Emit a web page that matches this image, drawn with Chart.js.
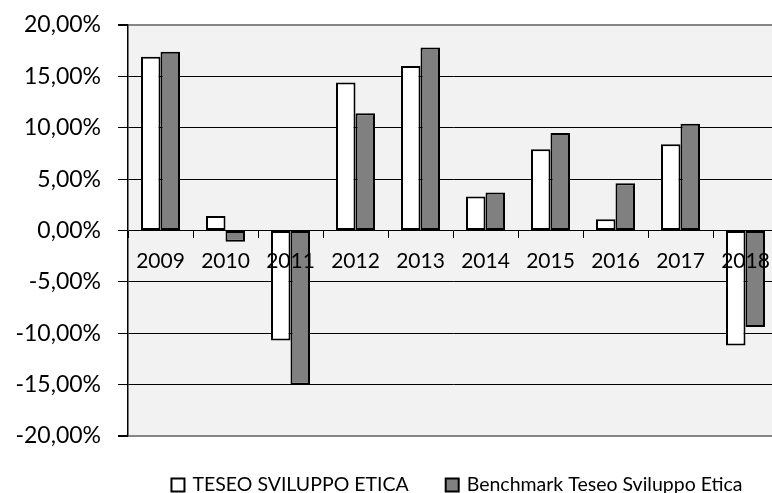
<!DOCTYPE html>
<html>
<head>
<meta charset="utf-8">
<script src="https://cdn.jsdelivr.net/npm/chart.js@4.4.1/dist/chart.umd.min.js"></script>
<style>
  html, body { margin: 0; padding: 0; background: #fff; overflow: hidden; width: 772px; height: 493px; }
  #wrap { width: 780px; height: 493px; position: relative; }
</style>
</head>
<body>
<div id="wrap"><canvas id="c"></canvas></div>
<script>
const categories = ['2009','2010','2011','2012','2013','2014','2015','2016','2017','2018'];
const fundLabel = 'TESEO SVILUPPO ETICA';
const benchLabel = 'Benchmark Teseo Sviluppo Etica';
const fundValues = [16.9, 1.4, -10.7, 14.4, 16.0, 3.3, 7.9, 1.1, 8.4, -11.2];
const benchValues = [17.4, -1.1, -15.0, 11.4, 17.8, 3.7, 9.5, 4.6, 10.4, -9.4];
const yMin = -20, yMax = 20, yStep = 5;

const FONT = 'Lato, "Open Sans", sans-serif';

const plotBg = {
  id: 'plotBg',
  beforeDraw(chart) {
    const {ctx, chartArea: a} = chart;
    ctx.save();
    ctx.fillStyle = '#f2f2f2';
    ctx.fillRect(a.left, a.top, a.right - a.left, a.bottom - a.top);
    ctx.restore();
  }
};

const excelLegend = {
  id: 'excelLegend',
  afterDraw(chart) {
    const ctx = chart.ctx;
    ctx.save();
    ctx.font = '19.5px ' + FONT;
    ctx.textBaseline = 'middle';
    ctx.textAlign = 'left';
    const box = 13, gap = 8, spacing = 37;
    const items = chart.data.datasets.map(ds => ({
      text: ds.label, fill: ds.backgroundColor, w: ctx.measureText(ds.label).width
    }));
    const total = items.reduce((s, it) => s + box + gap + it.w, 0) + spacing * (items.length - 1);
    let x = 457 - total / 2;
    const y = 485;
    items.forEach(it => {
      ctx.fillStyle = it.fill;
      ctx.fillRect(x, y - box / 2, box, box);
      ctx.lineWidth = 2;
      ctx.strokeStyle = '#000';
      ctx.strokeRect(x, y - box / 2, box, box);
      ctx.fillStyle = '#000';
      ctx.fillText(it.text, x + box + gap, y);
      x += box + gap + it.w + spacing;
    });
    ctx.restore();
  }
};

new Chart(document.getElementById('c'), {
  type: 'bar',
  data: {
    labels: categories,
    datasets: [
      { label: fundLabel, data: fundValues, backgroundColor: '#ffffff', borderColor: '#000', borderWidth: 2, borderSkipped: false },
      { label: benchLabel, data: benchValues, backgroundColor: '#808080', borderColor: '#000', borderWidth: 2, borderSkipped: false }
    ]
  },
  options: {
    responsive: true,
    maintainAspectRatio: false,
    animation: false,
    events: [],
    layout: { padding: { top: 25, right: 2, bottom: 57, left: 0 } },
    datasets: { bar: { categoryPercentage: 0.6, barPercentage: 1.0 } },
    plugins: { legend: { display: false }, tooltip: { enabled: false } },
    scales: {
      x: {
        position: { y: 0 },
        afterFit(scale) { scale.paddingLeft = 0; scale.paddingRight = 0; },
        grid: { drawOnChartArea: false, drawTicks: true, tickLength: 7, color: '#000', lineWidth: 1 },
        border: { display: false },
        ticks: { z: 1, color: '#000', font: { family: FONT, size: 21 }, padding: 11, maxRotation: 0, autoSkip: false }
      },
      y: {
        min: yMin, max: yMax,
        afterFit(scale) { scale.width = 128; scale.paddingTop = 0; scale.paddingBottom = 0; },
        grid: {
          color: ctx => (ctx.tick && Math.abs(ctx.tick.value) === 20) ? '#868686' : '#000',
          lineWidth: ctx => (ctx.tick && Math.abs(ctx.tick.value) === 20) ? 2 : 1,
          tickLength: 10,
          tickColor: '#000'
        },
        border: { display: true, color: '#000', width: 1.5 },
        ticks: {
          stepSize: yStep,
          color: '#000',
          padding: 17,
          font: { family: FONT, size: 23 },
          callback: v => v.toFixed(2).replace('.', ',') + '%'
        }
      }
    }
  },
  plugins: [plotBg, excelLegend]
});
</script>
</body>
</html>
